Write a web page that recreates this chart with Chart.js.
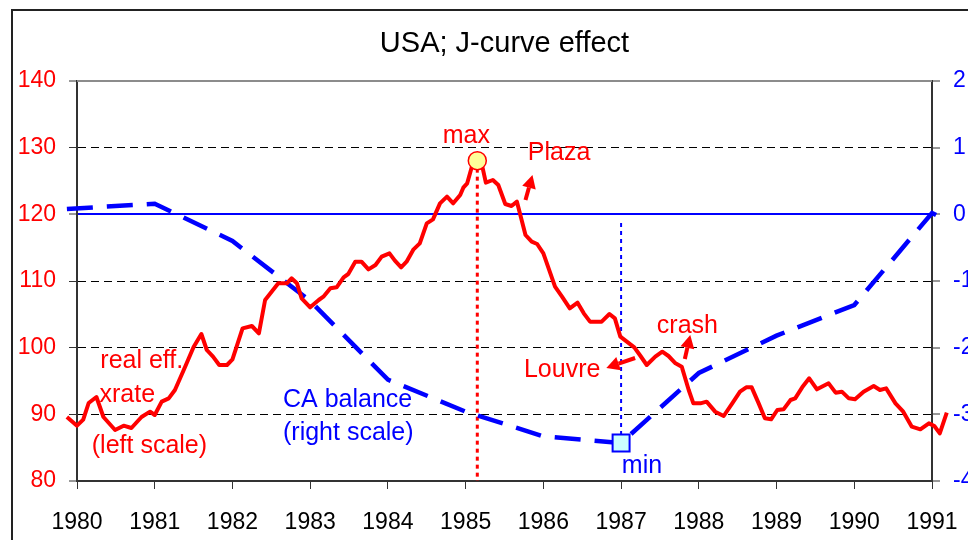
<!DOCTYPE html>
<html>
<head>
<meta charset="utf-8">
<script src="https://cdn.jsdelivr.net/npm/chart.js@4/dist/chart.umd.min.js"></script>
<style>
  html, body { margin: 0; padding: 0; background: #fff; }
  #wrap { width: 968px; height: 540px; position: relative; }
</style>
</head>
<body>
<div id="wrap"><canvas id="chart" width="968" height="540"></canvas></div>
<script>
// real effective exchange rate (left scale), monthly-ish readings
const rerYears = [1979.87, 1980.0, 1980.08, 1980.15, 1980.25, 1980.34, 1980.49, 1980.60, 1980.70, 1980.83,
  1980.94, 1981.00, 1981.09, 1981.18, 1981.26, 1981.39, 1981.50, 1981.60, 1981.67, 1981.75,
  1981.83, 1981.93, 1982.00, 1982.13, 1982.25, 1982.34, 1982.42, 1982.59, 1982.70, 1982.76,
  1982.83, 1982.89, 1983.00, 1983.11, 1983.17, 1983.26, 1983.34, 1983.43, 1983.49, 1983.58,
  1983.66, 1983.75, 1983.84, 1983.92, 1984.02, 1984.09, 1984.17, 1984.24, 1984.33, 1984.41,
  1984.50, 1984.58, 1984.67, 1984.76, 1984.84, 1984.93, 1984.97, 1985.02, 1985.08, 1985.15,
  1985.22, 1985.26, 1985.35, 1985.42, 1985.51, 1985.59, 1985.66, 1985.77, 1985.85, 1985.92,
  1986.00, 1986.15, 1986.24, 1986.34, 1986.44, 1986.52, 1986.60, 1986.75, 1986.85, 1986.92,
  1986.99, 1987.17, 1987.25, 1987.33, 1987.44, 1987.53, 1987.61, 1987.70, 1987.78, 1987.87,
  1987.93, 1988.02, 1988.10, 1988.21, 1988.32, 1988.43, 1988.53, 1988.61, 1988.68, 1988.77,
  1988.85, 1988.93, 1989.01, 1989.09, 1989.18, 1989.24, 1989.33, 1989.42, 1989.52, 1989.67,
  1989.76, 1989.84, 1989.93, 1990.01, 1990.12, 1990.25, 1990.33, 1990.41, 1990.53, 1990.63,
  1990.74, 1990.85, 1990.96, 1991.03, 1991.10, 1991.19];
const rerValues = [89.6, 88.3, 89.2, 91.7, 92.6, 89.6, 87.65, 88.3, 87.95, 89.6,
  90.4, 89.9, 91.9, 92.4, 93.65, 97.1, 100.1, 102.05, 99.65, 98.65,
  97.4, 97.4, 98.25, 102.9, 103.25, 102.15, 107.15, 109.65, 109.65, 110.4,
  109.65, 107.4, 106.05, 107.15, 107.65, 108.9, 109.05, 110.55, 111.05, 112.9,
  112.9, 111.75, 112.4, 113.65, 114.15, 113.05, 112.05, 112.9, 114.75, 115.65,
  118.65, 119.25, 121.65, 122.65, 121.65, 122.9, 124.0, 124.65, 127.15, 128.05,
  126.9, 124.75, 125.15, 124.4, 121.55, 121.25, 121.9, 116.9, 115.9, 115.55,
  114.15, 109.15, 107.65, 105.9, 106.75, 105.15, 103.9, 103.9, 105.05, 104.4,
  101.65, 100.05, 98.75, 97.4, 98.65, 99.4, 98.75, 97.65, 97.15, 93.65,
  91.65, 91.65, 91.9, 90.4, 89.75, 91.65, 93.4, 94.05, 94.05, 91.65,
  89.4, 89.25, 90.65, 90.75, 92.15, 92.4, 94.05, 95.4, 93.75, 94.65,
  93.25, 93.4, 92.4, 92.25, 93.4, 94.25, 93.65, 93.9, 91.65, 90.4,
  88.15, 87.75, 88.65, 88.25, 87.15, 90.25];

// current account balance (right scale)
const caYears = [1979.87, 1981, 1982, 1983, 1984, 1985, 1986, 1987, 1988, 1989, 1990, 1991, 1991.19];
const caValues = [0.08, 0.16, -0.40, -1.30, -2.48, -2.96, -3.33, -3.43, -2.38, -1.82, -1.36, 0.02, -0.09];

const leftTicks = [80, 90, 100, 110, 120, 130, 140];
const rightTicks = [-4, -3, -2, -1, 0, 1, 2];
const yearTicks = [1980, 1991];

const RED = '#ff0000';
const BLUE = '#0000ff';
const FONT = '"Liberation Sans", Arial, sans-serif';

const maxIdx = rerValues.indexOf(Math.max(...rerValues));
const minIdx = caValues.indexOf(Math.min(...caValues));

// text labels and arrows, placed in data units (x = year, y = left scale)
const notes = [
    { text: 'max', x: 1985.01, y: 130.7, color: RED, align: 'center' },
    { text: 'Plaza', x: 1985.80, y: 128.2, color: RED, align: 'left' },
    { text: 'real eff.', x: 1980.30, y: 96.95, color: RED, align: 'left' },
    { text: 'xrate', x: 1980.29, y: 91.85, color: RED, align: 'left' },
    { text: '(left scale)', x: 1980.19, y: 84.2, color: RED, align: 'left' },
    { text: 'CA balance', x: 1982.65, y: 91.1, color: BLUE, align: 'left' },
    { text: '(right scale)', x: 1982.65, y: 86.15, color: BLUE, align: 'left' },
    { text: 'crash', x: 1987.46, y: 102.2, color: RED, align: 'left' },
    { text: 'Louvre', x: 1985.75, y: 95.6, color: RED, align: 'left' },
    { text: 'min', x: 1987.01, y: 81.2, color: BLUE, align: 'left' }
];
const arrows = [
    { from: [1985.77, 122.15], to: [1985.86, 125.9] },
    { from: [1987.18, 98.45], to: [1986.81, 96.95] },
    { from: [1987.82, 98.3], to: [1987.89, 101.9] }
];

function drawArrow(ctx, x1, y1, x2, y2) {
    const ang = Math.atan2(y2 - y1, x2 - x1);
    const len = 13, half = 7;
    const bx = x2 - Math.cos(ang) * len, by = y2 - Math.sin(ang) * len;
    ctx.strokeStyle = RED;
    ctx.fillStyle = RED;
    ctx.lineWidth = 4;
    ctx.lineCap = 'butt';
    ctx.beginPath();
    ctx.moveTo(x1, y1);
    ctx.lineTo(bx, by);
    ctx.stroke();
    ctx.beginPath();
    ctx.moveTo(x2, y2);
    ctx.lineTo(bx + Math.sin(ang) * half, by - Math.cos(ang) * half);
    ctx.lineTo(bx - Math.sin(ang) * half, by + Math.cos(ang) * half);
    ctx.closePath();
    ctx.fill();
}

const overlay = {
    id: 'overlay',
    beforeDraw(chart) {
        const ctx = chart.ctx;
        ctx.save();
        ctx.strokeStyle = '#222';
        ctx.lineWidth = 2;
        ctx.beginPath();
        ctx.moveTo(12, 540);
        ctx.lineTo(12, 10);
        ctx.lineTo(968, 10);
        ctx.stroke();
        ctx.restore();
    },
    beforeDatasetsDraw(chart) {
        const ctx = chart.ctx;
        const {x, y, y2} = chart.scales;
        const area = chart.chartArea;
        ctx.save();
        // plot area top edge
        ctx.strokeStyle = '#8c8c8c';
        ctx.lineWidth = 2;
        ctx.beginPath();
        ctx.moveTo(area.left, area.top);
        ctx.lineTo(area.right, area.top);
        ctx.stroke();
        // dotted drop line from the max
        ctx.setLineDash([4, 4]);
        ctx.strokeStyle = RED;
        ctx.lineWidth = 3;
        const mx = x.getPixelForValue(rerYears[maxIdx]);
        ctx.beginPath();
        ctx.moveTo(mx, y.getPixelForValue(rerValues[maxIdx]));
        ctx.lineTo(mx, y.getPixelForValue(80));
        ctx.stroke();
        // dotted line above the min
        ctx.strokeStyle = BLUE;
        ctx.lineWidth = 2;
        const nx = x.getPixelForValue(caYears[minIdx]);
        ctx.beginPath();
        ctx.moveTo(nx, y2.getPixelForValue(-0.13));
        ctx.lineTo(nx, y2.getPixelForValue(caValues[minIdx]));
        ctx.stroke();
        ctx.restore();
    },
    afterDatasetsDraw(chart) {
        const ctx = chart.ctx;
        const {x, y} = chart.scales;
        ctx.save();
        arrows.forEach(a => drawArrow(ctx,
            x.getPixelForValue(a.from[0]), y.getPixelForValue(a.from[1]),
            x.getPixelForValue(a.to[0]), y.getPixelForValue(a.to[1])));
        ctx.font = '25px ' + FONT;
        ctx.textBaseline = 'alphabetic';
        notes.forEach(n => {
            ctx.fillStyle = n.color;
            ctx.textAlign = n.align;
            ctx.fillText(n.text, x.getPixelForValue(n.x), y.getPixelForValue(n.y));
        });
        ctx.restore();
    }
};

new Chart(document.getElementById('chart'), {
    type: 'line',
    data: {
        datasets: [
            {
                label: 'real eff. xrate',
                data: rerYears.map((yr, i) => ({x: yr, y: rerValues[i]})),
                yAxisID: 'y',
                borderColor: RED,
                borderWidth: 4,
                borderJoinStyle: 'round',
                tension: 0,
                clip: false,
                pointRadius: c => c.dataIndex === maxIdx ? 9 : 0,
                pointHoverRadius: 0,
                pointBackgroundColor: '#ffff99',
                pointBorderColor: RED,
                pointBorderWidth: 1.5
            },
            {
                label: 'CA balance',
                data: caYears.map((yr, i) => ({x: yr, y: caValues[i]})),
                yAxisID: 'y2',
                borderColor: BLUE,
                borderWidth: 4.5,
                borderDash: [26, 14],
                tension: 0,
                clip: false,
                pointStyle: 'rect',
                pointRadius: c => c.dataIndex === minIdx ? 12 : 0,
                pointHoverRadius: 0,
                pointBackgroundColor: '#ccffff',
                pointBorderColor: BLUE,
                pointBorderWidth: 2
            }
        ]
    },
    options: {
        responsive: false,
        animation: false,
        events: [],
        layout: { padding: 0 },
        plugins: {
            legend: { display: false },
            tooltip: { enabled: false },
            title: {
                display: true,
                fullSize: false,
                text: 'USA; J-curve effect',
                color: '#000',
                font: { family: FONT, size: 29, weight: 'normal' },
                padding: { top: 27, bottom: 19.2 }
            }
        },
        scales: {
            x: {
                type: 'linear',
                position: 'bottom',
                afterDataLimits: s => { s.min = yearTicks[0]; s.max = yearTicks[1]; },
                afterFit: s => { s.height = 59; s.paddingLeft = 0; s.paddingRight = 0; },
                ticks: {
                    stepSize: 1,
                    color: '#000',
                    padding: 20,
                    maxRotation: 0,
                    font: { family: FONT, size: 23 },
                    callback: v => String(v)
                },
                grid: { drawOnChartArea: false, tickLength: 8, tickColor: '#333', tickWidth: 1 },
                border: { color: '#333', width: 2 }
            },
            y: {
                position: 'left',
                min: leftTicks[0],
                max: leftTicks[leftTicks.length - 1],
                afterFit: s => { s.width = 77; },
                ticks: {
                    stepSize: 10,
                    color: RED,
                    padding: 13,
                    font: { family: FONT, size: 23 }
                },
                grid: {
                    color: '#000',
                    lineWidth: c => (c.tick && c.tick.value > 80 && c.tick.value < 140 && c.tick.value !== 120) ? 1 : 0,
                    tickLength: 8,
                    tickColor: '#333',
                    tickWidth: 1
                },
                border: { color: '#333', width: 2, dash: [8, 5] }
            },
            y2: {
                position: 'right',
                min: rightTicks[0],
                max: rightTicks[rightTicks.length - 1],
                afterFit: s => { s.width = 36; },
                ticks: {
                    stepSize: 1,
                    color: BLUE,
                    padding: 13,
                    font: { family: FONT, size: 23 }
                },
                grid: {
                    drawOnChartArea: true,
                    color: c => (c.tick && c.tick.value === 0) ? BLUE : 'rgba(0,0,0,0)',
                    lineWidth: c => (c.tick && c.tick.value === 0) ? 2 : 0,
                    tickLength: 8,
                    tickColor: '#333',
                    tickWidth: 1
                },
                border: { color: '#333', width: 2 }
            }
        }
    },
    plugins: [overlay]
});
</script>
</body>
</html>
